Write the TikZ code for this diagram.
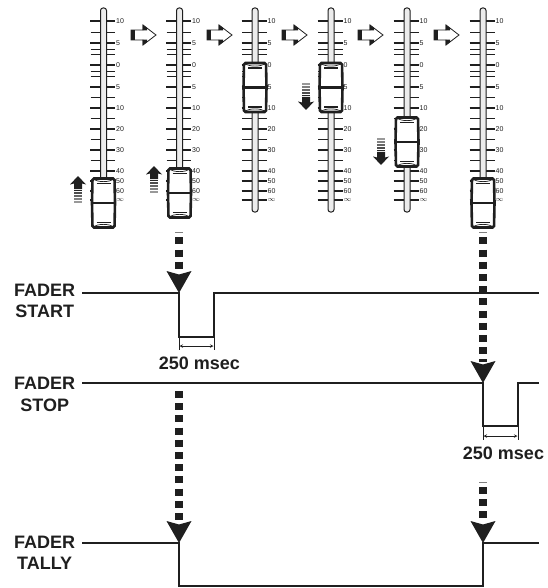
\documentclass[tikz,border=0pt]{standalone}
\usepackage{fontspec}
\setmainfont{Liberation Sans}
\usepackage{tikz}
\usepackage{xcolor}
\definecolor{inkdark}{gray}{0.12}
\tikzset{
  signal/.style={draw=inkdark,line width=2.2pt,line join=miter},
  tickmajor/.style={draw=inkdark,line width=1.7pt},
  tickminor/.style={draw=inkdark,line width=0.7pt},
  ticklabel/.style={font=\fontsize{7}{8}\selectfont,text=inkdark,anchor=west,inner sep=0pt},
  siglabel/.style={font=\fontsize{18}{21.5}\selectfont\bfseries,text=inkdark,align=center,inner sep=0pt},
  timelabel/.style={font=\fontsize{18}{21}\selectfont\bfseries,text=inkdark,inner sep=0pt},
  dashrun/.style={draw=inkdark,line width=8pt,dash pattern=on 7pt off 5.2pt},
  dashcap/.style={draw=gray,line width=1pt},
  measure/.style={draw=inkdark,line width=0.6pt},
}
\begin{document}
\begin{tikzpicture}[x=1pt,y=-1pt]
\useasboundingbox (0,0) rectangle (547,588);
% faders: track centre / knob centre
\foreach \fx/\ky in {103.5/203,179.5/193,255/87.5,331/87.5,407/142,483/203}{
  \foreach \ty in {21,43,65,87,108,129,150,171,181,191,200}{
    \draw[tickmajor] (\fx-13.5,\ty) -- (\fx+11.5,\ty);
  }
  \foreach \ty in {32,49,54,71,76.5,97.5,118,139,160}{
    \draw[tickminor] (\fx-13,\ty) -- (\fx+11.5,\ty);
  }
  \foreach \ty/\tl in {21/10,43/5,65/0,87/5,108/10,129/20,150/30,171/40,181/50,191/60,200/$\infty$}{
    \node[ticklabel] at (\fx+12.5,\ty) {\tl};
  }
  \draw[inkdark,line width=1pt,fill=gray!15,rounded corners=2.5pt] (\fx-3,8) rectangle (\fx+3,212);
  % knob
  \draw[inkdark,fill=white,line width=2.6pt,rounded corners=1.5pt] (\fx-11,\ky-24.5) -- (\fx+11,\ky-24.5) -- (\fx+11.5,\ky) -- (\fx+11,\ky+24.5) -- (\fx-11,\ky+24.5) -- (\fx-11.5,\ky) -- cycle;
  \draw[inkdark,line width=2.2pt] (\fx-11.5,\ky) -- (\fx+11.5,\ky);
  \draw[inkdark,line width=0.7pt] (\fx-10,\ky-24) .. controls (\fx-6,\ky-20.5) and (\fx+6,\ky-20.5) .. (\fx+10,\ky-24);
  \draw[inkdark,line width=0.7pt] (\fx-10,\ky+24) .. controls (\fx-6,\ky+20.5) and (\fx+6,\ky+20.5) .. (\fx+10,\ky+24);
  \draw[inkdark,line width=1.7pt] (\fx-7,\ky-19.5) -- (\fx+7,\ky-19.5);
  \draw[inkdark,line width=1.7pt] (\fx-7,\ky+19.5) -- (\fx+7,\ky+19.5);
}
% block arrows between faders
\foreach \ax in {131,207,282,358,434}{
  \draw[inkdark,fill=white,line width=0.8pt,line join=miter] (\ax,30) -- (\ax+12,30) -- (\ax+12,25) -- (\ax+25,35) -- (\ax+12,45) -- (\ax+12,40) -- (\ax,40) -- cycle;
  \fill[inkdark] (\ax-0.4,29.6) rectangle (\ax+3.5,40.4);
  \fill[inkdark] (\ax+11.6,24.6) -- (\ax+16,28) -- (\ax+16,30.4) -- (\ax+11.6,30.4) -- cycle;
  \fill[inkdark] (\ax+11.6,45.4) -- (\ax+16,42) -- (\ax+16,39.6) -- (\ax+11.6,39.6) -- cycle;
}
% small up arrows
\foreach \ux/\uy in {78/176,154/166}{
  \fill[inkdark] (\ux,\uy) -- (\ux+8,\uy+8.5) -- (\ux+4,\uy+7.5) -- (\ux+4,\uy+13) -- (\ux-4,\uy+13) -- (\ux-4,\uy+7.5) -- (\ux-8,\uy+8.5) -- cycle;
  \foreach \sy/\sg in {14.5/85,17/70,20/60,23/50,26/40}{
    \draw[black!\sg!white,line width=1.5pt] (\ux-4,\uy+\sy) -- (\ux+4,\uy+\sy);
  }
}
% small down arrows
\foreach \ux/\uy in {306/110,381/165}{
  \fill[inkdark] (\ux,\uy) -- (\ux+8,\uy-8.5) -- (\ux+4,\uy-7.5) -- (\ux+4,\uy-13) -- (\ux-4,\uy-13) -- (\ux-4,\uy-7.5) -- (\ux-8,\uy-8.5) -- cycle;
  \foreach \sy/\sg in {14.5/85,17/70,20/60,23/50,26/40}{
    \draw[black!\sg!white,line width=1.5pt] (\ux-4,\uy-\sy) -- (\ux+4,\uy-\sy);
  }
}
% signal lines
\coordinate (startdrop) at (179,293);
\coordinate (stopdrop) at (483,383);
\coordinate (tallydrop) at (179,543);
\coordinate (tallyrise) at (483,543);
\draw[signal] (82,293) -- (startdrop) -- (179,337) -- (214,337) -- (214,293) -- (539,293);
\draw[signal] (82,383) -- (stopdrop) -- (483,426) -- (518,426) -- (518,383) -- (539,383);
\draw[signal] (82,543) -- (tallydrop) -- (179,586) -- (483,586) -- (tallyrise) -- (539,543);
\node[siglabel,anchor=west] (startname) at (14,301) {FADER\\START};
\node[siglabel,anchor=west] (stopname) at (14,394.5) {FADER\\STOP};
\node[siglabel,anchor=west] (tallyname) at (14,553) {FADER\\TALLY};
% dotted drops with heads
\foreach \dx/\dtop/\dend in {179/237.3/272,483/237.3/362,179/391/520,483/487/520}{
  \draw[dashrun] (\dx,\dtop) -- (\dx,\dend);
}
\foreach \dx/\dy in {179/232.5,483/232.5,483/482}{
  \draw[dashcap] (\dx-4,\dy) -- (\dx+4,\dy);
}
\foreach \hx/\hy in {179/293,483/383,179/543,483/543}{
  \fill[inkdark] (\hx,\hy) -- (\hx+12.5,\hy-22) -- (\hx,\hy-18.5) -- (\hx-12.5,\hy-22) -- cycle;
}
% 250 msec marks
\draw[measure] (179,337) -- (179,350);
\draw[measure] (214,337) -- (214,350);
\draw[measure,<->,>=stealth] (179.5,346) -- (213.5,346);
\node[timelabel] (startgap) at (199.5,363) {250 msec};
\draw[measure] (483,426) -- (483,440);
\draw[measure] (518,426) -- (518,440);
\draw[measure,<->,>=stealth] (483.5,436) -- (517.5,436);
\node[timelabel] (stopgap) at (503.5,453) {250 msec};
\end{tikzpicture}
\end{document}
